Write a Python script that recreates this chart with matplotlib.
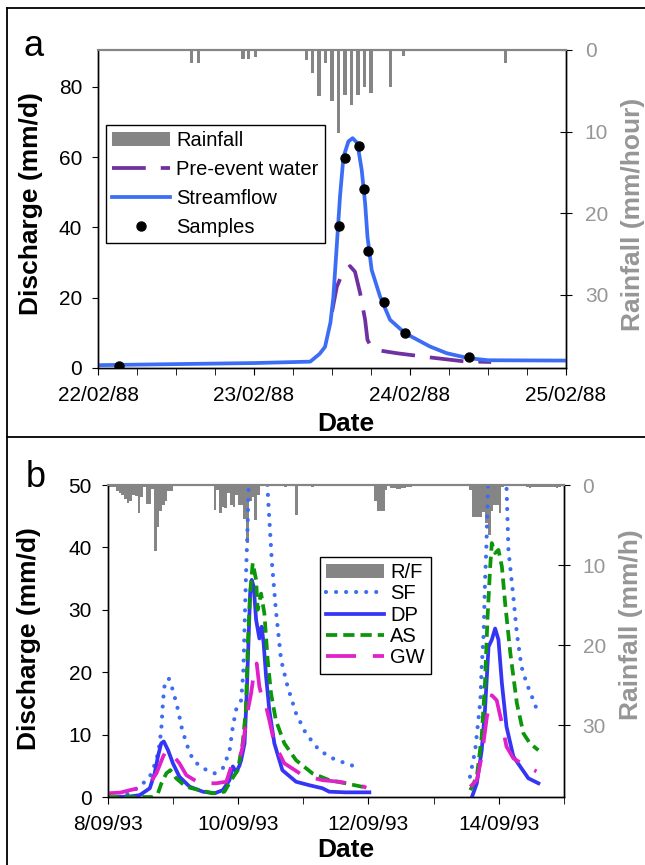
import numpy as np
import matplotlib
matplotlib.use("Agg")
import matplotlib.pyplot as plt
from matplotlib.lines import Line2D
from matplotlib.patches import Patch

plt.rcParams["font.family"] = ["Liberation Sans", "DejaVu Sans"]

nan = np.nan

# ---------------- panel a : 22/02/88 - 25/02/88 (x in days) ----------------
a_ticklabels = ["22/02/88", "23/02/88", "24/02/88", "25/02/88"]

a_rain_hour = [14.4, 15.4, 22.3, 23.2, 24.2, 32.1, 33, 34, 35, 36, 37, 38, 39,
               40, 41, 42, 45, 47, 62.7]
a_rain_mm = [1.6, 1.6, 1.1, 1.1, 0.8, 1.2, 2.8, 5.7, 1.6, 6.2, 10.2, 5.5, 6.8,
             5.5, 4.5, 5.3, 4.5, 0.7, 1.6]

a_flow_day = [0.0, 0.5, 1.0, 1.36, 1.42, 1.455, 1.49, 1.508, 1.53, 1.551, 1.573,
              1.605, 1.632, 1.662, 1.69, 1.712, 1.727, 1.754, 1.808, 1.872,
              1.968, 2.128, 2.235, 2.374, 2.5, 3.0]
a_flow_q = [0.8, 1.1, 1.4, 1.8, 4.0, 6.0, 13.0, 20.0, 34.6, 48.8, 60.0, 64.5,
            65.4, 64.0, 56.4, 46.9, 37.4, 27.9, 20.3, 13.7, 9.9, 6.1, 4.2, 2.8,
            2.2, 2.1]

a_pre_day = [1.50, 1.53, 1.562, 1.615, 1.647, 1.68, 1.712, 1.727, 1.745, 1.786,
             1.915, 2.128, 2.342, 2.52]
a_pre_q = [16.0, 23.0, 26.5, 29.0, 27.4, 21.3, 13.7, 8.0, 6.5, 5.1, 4.2, 3.0,
           1.9, 1.7]

a_samp_day = [0.137, 1.547, 1.583, 1.671, 1.707, 1.733, 1.835, 1.968, 2.376]
a_samp_q = [0.7, 40.5, 59.8, 63.2, 50.8, 33.3, 18.8, 9.9, 3.0]

# ---------------- panel b : 8/09/93 - 15/09/93 (x in days) ----------------
b_ticklabels = ["8/09/93", "10/09/93", "12/09/93", "14/09/93"]

b_rain_hour = list(range(0, 24)) + list(range(39, 56)) + [65, 69, 75] + \
    list(range(98, 103)) + list(range(104, 112)) + list(range(133, 146)) + \
    list(range(154, 167))
b_rain_mm = [0.3, 0.3, 0.3, 0.8, 1.0, 1.3, 1.8, 2.3, 2.0, 1.2, 1.4, 3.5, 1.5,
             0.3, 2.4, 2.4, 0.5, 8.3, 5.3, 3.2, 2.5, 2.0, 0.7, 0.7,
             3.1, 0.6, 3.5, 2.7, 2.9, 1.0, 2.5, 2.7, 1.3, 2.5, 2.5, 4.2, 7.2,
             2.0, 1.5, 4.4, 1.3,
             0.3, 3.8, 0.2,
             2.0, 3.2, 3.2, 3.2, 0.6,
             0.4, 0.4, 0.5, 0.5, 0.4, 0.4, 0.3, 0.3,
             0.6, 4.0, 4.0, 4.0, 4.0, 3.4, 4.8, 6.3, 3.3, 2.5, 2.5, 3.5, 0.3,
             0.3, 0.4, 0.3, 0.3, 0.3, 0.2, 0.2, 0.3, 0.3, 0.2, 0.2, 0.4, 0.3]

sf_day = [0.30, 0.49, 0.645, 0.747, 0.798, 0.824, 0.849, 0.875, 0.936, 1.0,
          1.08, 1.13, 1.206, 1.308, 1.46, 1.64, 1.766, 1.868, 1.92, 1.97,
          2.047, 2.08, 2.1, 2.12, 2.145, 2.165, 2.25, 2.35, 2.43, 2.46, 2.52,
          2.58, 2.66, 2.76, 2.89, 3.04, 3.245, 3.45, 3.65, 3.88,
          nan,
          5.56, 5.64, 5.72, 5.74, 5.77, 5.79, 5.81, 5.84, 5.95, 6.05, 6.12,
          6.15, 6.23, 6.28, 6.35, 6.43, 6.51, 6.58]
sf_q = [0.5, 1.65, 3.25, 5.9, 8.6, 11.3, 15.5, 18.2, 19.0, 17.1,
        13.9, 11.3, 8.6, 5.9, 4.6, 3.8, 4.6, 7.3, 11.3, 14.0,
        15.5, 20.0, 27.3, 35.0, 43.0, 51.0, 72.0, 70.0, 55.0, 48.0, 37.5,
        30.0, 22.0, 17.7, 13.4, 10.2, 7.5, 6.2, 5.4, 4.6,
        nan,
        3.25, 7.5, 15.5, 20.9, 26.2, 34.2, 39.6, 51.0, 68.0, 62.0, 50.0,
        39.6, 31.6, 26.2, 20.9, 18.2, 16.1, 14.2]

dp_day = [0.15, 0.35, 0.49, 0.645, 0.72, 0.77, 0.82, 0.86, 0.925, 1.0, 1.1,
          1.257, 1.46, 1.64, 1.766, 1.868, 1.92, 1.97, 2.02, 2.047, 2.1,
          2.133, 2.159, 2.185, 2.21, 2.24, 2.277, 2.327, 2.362, 2.393, 2.43,
          2.48, 2.557, 2.68, 2.89, 3.09, 3.295, 3.4, 3.65, 4.015,
          nan,
          5.59, 5.665, 5.74, 5.79, 5.845, 5.895, 5.946, 5.997, 6.05, 6.12,
          6.226, 6.33, 6.456, 6.61]
dp_q = [0.0, 0.1, 0.3, 1.4, 3.8, 6.5, 8.6, 8.9, 7.5, 5.4, 3.25,
        1.65, 0.85, 0.6, 1.1, 2.7, 4.9, 4.0, 5.0, 5.9, 8.6,
        16.6, 24.6, 32.6, 34.8, 33.7, 28.4, 25.4, 27.3, 24.6, 19.3,
        13.9, 8.6, 4.3, 2.45, 1.9, 1.4, 0.85, 0.75, 0.75,
        nan,
        0.0, 2.2, 7.5, 13.9, 24.1, 25.2, 27.0, 25.2, 18.2, 11.3,
        6.5, 4.9, 3.0, 2.2]

as_day = [0.0, 0.7, 0.77, 0.824, 0.9, 0.96, 1.05, 1.2, 1.41, 1.61, 1.79,
          1.894, 1.995, 2.07, 2.12, 2.15, 2.185, 2.225, 2.277, 2.3, 2.353,
          2.404, 2.454, 2.506, 2.58, 2.71, 2.89, 3.14, 3.4, 3.65, 3.9, 3.98,
          nan,
          5.565, 5.665, 5.74, 5.79, 5.83, 5.87, 5.895, 5.946, 5.997, 6.05,
          6.1, 6.18, 6.28, 6.38, 6.48, 6.61]
as_q = [0.0, 0.0, 0.6, 2.2, 3.8, 4.3, 3.0, 1.65, 1.1, 0.6, 0.85,
        2.7, 4.3, 8.6, 13.9, 24.6, 32.6, 37.5, 34.8, 30.0, 32.6,
        29.4, 22.0, 16.6, 12.3, 8.6, 5.9, 3.8, 2.7, 2.2, 1.65, 1.4,
        nan,
        1.1, 3.25, 9.7, 18.2, 28.9, 36.9, 40.7, 39.1, 39.6, 36.9,
        31.0, 23.0, 15.0, 10.2, 8.6, 7.5]

gw_day = [0.0, 0.19, 0.34, 0.47, 0.645, 0.747, 0.85, 0.9, 0.977, 1.1, 1.206,
          1.41, 1.665, 1.82, 1.92, 2.02, 2.07, 2.15, 2.2, 2.25, 2.286, 2.327,
          2.378, 2.43, 2.48, 2.557, 2.71, 2.99, 3.295, 3.55, 3.856, 3.97,
          nan,
          5.565, 5.665, 5.74, 5.82, 5.895, 5.97, 6.05, 6.12, 6.226, 6.35, 6.58]
gw_q = [0.6, 0.7, 1.1, 1.4, 2.2, 3.8, 6.5, 7.5, 7.0, 5.4, 3.5,
        2.2, 2.2, 2.45, 5.7, 5.9, 8.1, 13.9, 16.6, 20.4, 21.4, 17.7,
        15.5, 14.5, 12.3, 8.6, 5.4, 3.5, 2.7, 2.45, 1.9, 1.5,
        nan,
        1.65, 2.7, 6.5, 12.9, 16.3, 15.5, 11.8, 8.1, 6.2, 5.4, 4.1]

RAIN = "#858585"
RAIN_TXT = "#969696"
LW = 2.7

fig = plt.figure(figsize=(6.45, 8.65), dpi=100)


def style_axes(ax, ax2):
    ax.set_zorder(ax2.get_zorder() + 1)
    ax.patch.set_visible(False)
    for a in (ax, ax2):
        for side in ("left", "right", "bottom"):
            a.spines[side].set_color("black")
            a.spines[side].set_linewidth(1.0)
        a.spines["top"].set_color(RAIN)
        a.spines["top"].set_linewidth(1.5)
    ax.tick_params(axis="y", direction="out", length=4.5, pad=7, labelsize=15)
    ax.tick_params(axis="x", which="both", direction="out", length=5, pad=8,
                   labelsize=15)
    ax2.tick_params(axis="y", direction="inout", length=9, pad=9, labelsize=15,
                    color="black", labelcolor=RAIN_TXT)


# ---- panel a
ax = fig.add_axes([0.152, 0.5746, 0.7256, 0.3676])
ax2 = ax.twinx()
ax2.bar(np.array(a_rain_hour) / 24.0, a_rain_mm, width=0.5 / 24, color=RAIN,
        linewidth=0)
ax2.set_ylim(39, 0)
ax2.set_yticks([0, 10, 20, 30])
ax.plot(a_pre_day, a_pre_q, color="#7030a0", lw=LW, ls=(0, (9, 4)))
ax.plot(a_flow_day, a_flow_q, color="#3b6ef5", lw=LW)
ax.plot(a_samp_day, a_samp_q, "o", color="black", ms=6.5)
ax.set_xlim(0, 3)
ax.set_ylim(0, 90.5)
ax.set_yticks([0, 20, 40, 60, 80])
ax.set_xticks([0, 1, 2, 3])
ax.set_xticklabels(a_ticklabels)
ax.set_xticks(np.arange(0, 3.01, 0.25), minor=True)
style_axes(ax, ax2)
ax.set_ylabel("Discharge (mm/d)", fontsize=19, fontweight="bold")
ax.yaxis.set_label_coords(-0.1175, 0.516)
ax2.set_ylabel("Rainfall (mm/hour)", fontsize=19, fontweight="bold",
               color=RAIN_TXT)
ax2.yaxis.set_label_coords(1.1175, 0.484)
ax.set_xlabel("Date", fontsize=19, fontweight="bold")
ax.xaxis.set_label_coords(0.529, -0.137)

handles_a = [Patch(facecolor=RAIN, edgecolor="none"),
             Line2D([], [], color="#7030a0", lw=LW, ls=(0, (9, 4))),
             Line2D([], [], color="#3b6ef5", lw=LW),
             Line2D([], [], marker="o", color="black", ls="none", ms=6.5)]
leg = ax.legend(handles_a, ["Rainfall", "Pre-event water", "Streamflow", "Samples"],
                loc="upper left", bbox_to_anchor=(0.017, 0.764), fontsize=14.5,
                frameon=True, fancybox=False, framealpha=1, edgecolor="black",
                borderaxespad=0, handlelength=2.9, handletextpad=0.3,
                labelspacing=0.5, borderpad=0.3)
leg.get_frame().set_linewidth(1.0)

# ---- panel b
bx = fig.add_axes([0.1671, 0.0786, 0.707, 0.3607])
bx2 = bx.twinx()
bx2.bar(np.array(b_rain_hour) / 24.0 + 0.5 / 24, b_rain_mm, width=1.0 / 24,
        color=RAIN, linewidth=0)
bx2.set_ylim(39, 0)
bx2.set_yticks([0, 10, 20, 30])
bx.plot(sf_day, sf_q, color="#3d6df2", lw=3.0, ls=(0, (0.01, 2.4)),
        dash_capstyle="round")
bx.plot(dp_day, dp_q, color="#3535f5", lw=LW)
bx.plot(as_day, as_q, color="#0b960b", lw=LW, ls=(0, (3.0, 1.6)))
bx.plot(gw_day, gw_q, color="#e020c8", lw=LW, ls=(0, (8, 4.5)))
bx.set_xlim(0, 7)
bx.set_ylim(0, 50)
bx.set_yticks([0, 10, 20, 30, 40, 50])
bx.set_xticks([0, 2, 4, 6])
bx.set_xticklabels(b_ticklabels)
bx.set_xticks(np.arange(0, 7.01, 1), minor=True)
style_axes(bx, bx2)
bx.set_ylabel("Discharge (mm/d)", fontsize=19, fontweight="bold")
bx.yaxis.set_label_coords(-0.1465, 0.509)
bx2.set_ylabel("Rainfall (mm/h)", fontsize=19, fontweight="bold",
               color=RAIN_TXT)
bx2.yaxis.set_label_coords(1.121, 0.551)
bx.set_xlabel("Date", fontsize=19, fontweight="bold")
bx.xaxis.set_label_coords(0.522, -0.132)

handles_b = [Patch(facecolor=RAIN, edgecolor="none"),
             Line2D([], [], color="#3d6df2", lw=3.0, ls=(0, (0.01, 2.4)),
                    dash_capstyle="round"),
             Line2D([], [], color="#3535f5", lw=LW),
             Line2D([], [], color="#0b960b", lw=LW, ls=(0, (3.0, 1.6))),
             Line2D([], [], color="#e020c8", lw=LW, ls=(0, (8, 4.5)))]
legb = bx.legend(handles_b, ["R/F", "SF", "DP", "AS", "GW"],
                 loc="upper left", bbox_to_anchor=(0.465, 0.770), fontsize=14.5,
                 frameon=True, fancybox=False, framealpha=1, edgecolor="black",
                 borderaxespad=0, handlelength=2.9, handletextpad=0.3,
                 labelspacing=0.12, borderpad=0.3)
legb.get_frame().set_linewidth(1.0)

# panel letters
fig.text(34 / 645, 1 - 47 / 865, "a", fontsize=26, ha="center", va="center")
fig.text(36 / 645, 1 - 478 / 865, "b", fontsize=26, ha="center", va="center")

# panel frames
W, H = 645.0, 865.0
for xs, ys in [([7, 645], [8, 8]), ([7, 7], [8, 865]), ([7, 645], [437, 437])]:
    fig.add_artist(Line2D([x / W for x in xs], [1 - y / H for y in ys],
                          color="black", lw=1.3))

fig.savefig("out.png", dpi=100)
